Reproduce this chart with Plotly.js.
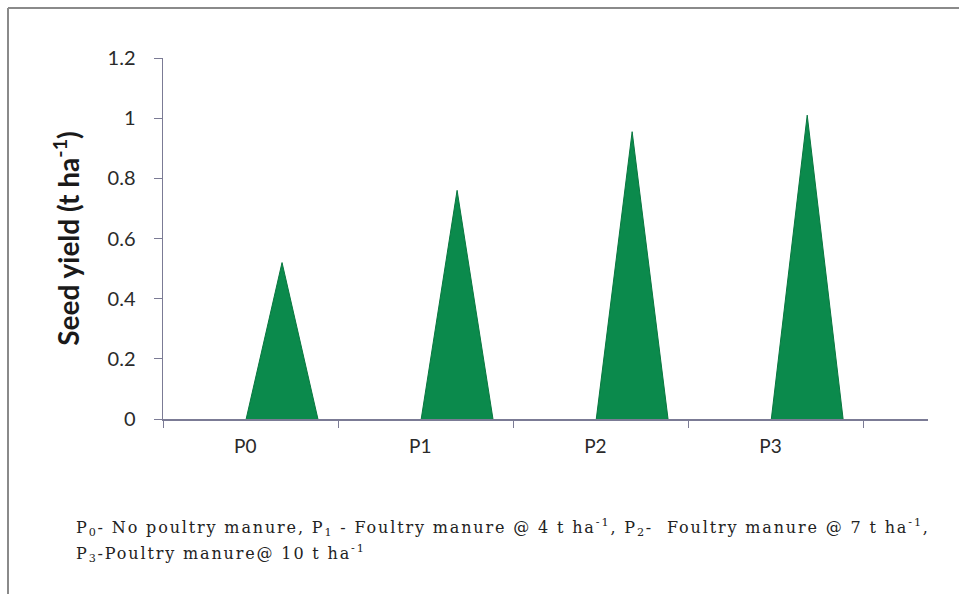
<!DOCTYPE html>
<html>
<head>
<meta charset="utf-8">
<script src="https://cdn.plot.ly/plotly-3.0.1.min.js"></script>
<style>
  html, body { margin: 0; padding: 0; background: #ffffff; }
  #chart { width: 959px; height: 594px; }
  #chart .annotation-text { letter-spacing: 1.85px; }
</style>
</head>
<body>
<div id="chart"></div>
<script>
// ---- data ----
const categories = ["P0", "P1", "P2", "P3"];
const seedYield = [0.52, 0.76, 0.955, 1.01];
const yTickValues = [0, 0.2, 0.4, 0.6, 0.8, 1, 1.2];
const captionLine1 = "P<sub>0</sub>- No poultry manure, P<sub>1</sub> - Foultry manure @ 4 t ha<sup>-1</sup>, P<sub>2</sub>-  Foultry manure @ 7 t ha<sup>-1</sup>,";
const captionLine2 = "P<sub>3</sub>-Poultry manure@ 10 t ha<sup>-1</sup>";

// ---- layout constants ----
const W = 959, H = 594;
const M = { l: 163, r: 31, t: 58, b: 175 };
const plotW = W - M.l - M.r, plotH = H - M.t - M.b;
const coneOffset = 0.18;   // cone shift right of category centre (category units)
const coneHalf = 0.205;    // half base width of a cone (category units)
const green = "#0b8a4c";

const traces = categories.map((c, i) => ({
  type: "scatter",
  mode: "lines",
  x: [i + coneOffset - coneHalf, i + coneOffset, i + coneOffset + coneHalf],
  y: [0, seedYield[i], 0],
  fill: "toself",
  fillcolor: green,
  line: { color: "#08773f", width: 1 },
  hoverinfo: "skip",
  showlegend: false,
  xaxis: "x",
  yaxis: "y"
}));

// invisible trace to activate the label axis
traces.push({
  type: "scatter", mode: "markers",
  x: categories.map((c, i) => i), y: categories.map(() => 0),
  marker: { opacity: 0 }, hoverinfo: "skip", showlegend: false,
  xaxis: "x2", yaxis: "y"
});

const px2x = p => (p - M.l) / plotW;
const px2y = p => (H - M.b - p) / plotH;
const borderColor = "#8a8a8a";

const layout = {
  width: W, height: H,
  margin: M,
  paper_bgcolor: "#ffffff",
  plot_bgcolor: "#ffffff",
  showlegend: false,
  xaxis: {
    range: [-0.5, 3.87],
    tickvals: [-0.5, 0.5, 1.5, 2.5, 3.5],
    showticklabels: false,
    ticks: "outside", ticklen: 7, tickwidth: 1, tickcolor: "#7b7b95",
    showgrid: false, zeroline: false,
    showline: true, linecolor: "#7b7b95", linewidth: 1.5,
    fixedrange: true
  },
  xaxis2: {
    overlaying: "x", anchor: "y", side: "bottom",
    range: [-0.5, 3.87],
    tickvals: categories.map((c, i) => i - 0.03),
    ticktext: categories,
    ticks: "outside", ticklen: 10, tickcolor: "rgba(0,0,0,0)",
    showgrid: false, zeroline: false, showline: false,
    tickfont: { family: "Lato, sans-serif", size: 19, color: "#2a2a2a" },
    fixedrange: true
  },
  yaxis: {
    range: [0, 1.2],
    tickvals: yTickValues,
    ticktext: yTickValues.map(v => String(v)),
    ticks: "outside", ticklen: 8, tickwidth: 1, tickcolor: "#7b7b95",
    ticklabelstandoff: 14,
    showgrid: false, zeroline: false,
    showline: true, linecolor: "#7b7b95", linewidth: 1.5,
    tickfont: { family: "Lato, sans-serif", size: 20, color: "#2a2a2a" },
    title: {
      text: "<b>Seed yield (t ha<sup>-1</sup>)</b>",
      font: { family: "Lato, sans-serif", size: 28, color: "#1a1a1a" },
      standoff: 20
    },
    fixedrange: true
  },
  shapes: [
    { type: "line", xref: "paper", yref: "paper",
      x0: px2x(8), x1: px2x(8), y0: px2y(594), y1: px2y(8),
      line: { color: borderColor, width: 2 } },
    { type: "line", xref: "paper", yref: "paper",
      x0: px2x(8), x1: px2x(959), y0: px2y(8), y1: px2y(8),
      line: { color: borderColor, width: 2 } }
  ],
  annotations: [
    { xref: "paper", yref: "paper", x: px2x(74), y: px2y(527),
      xanchor: "left", yanchor: "middle", showarrow: false, align: "left",
      text: captionLine1,
      font: { family: "DejaVu Serif, serif", size: 16, color: "#222222" } },
    { xref: "paper", yref: "paper", x: px2x(74), y: px2y(553),
      xanchor: "left", yanchor: "middle", showarrow: false, align: "left",
      text: captionLine2,
      font: { family: "DejaVu Serif, serif", size: 16, color: "#222222" } }
  ]
};

Plotly.newPlot("chart", traces, layout, { displayModeBar: false, staticPlot: true });
</script>
</body>
</html>
